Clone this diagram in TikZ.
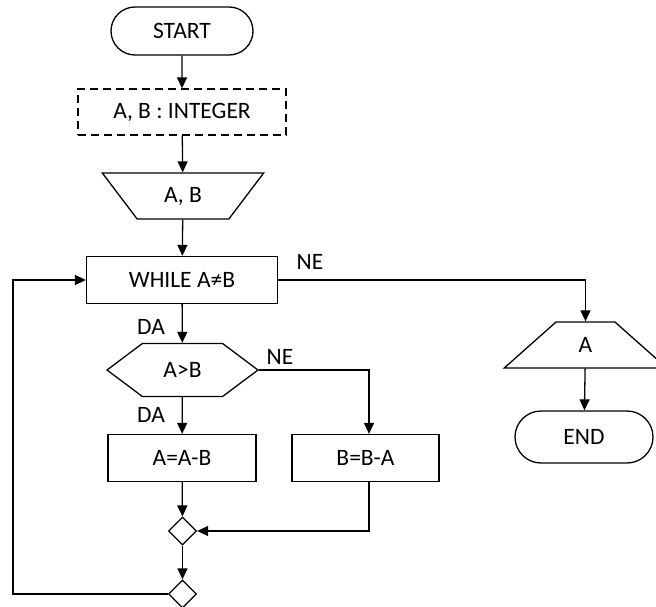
\documentclass[tikz,border=0pt]{standalone}
\usepackage{fontspec}
\setmainfont{Carlito}
\usetikzlibrary{shapes.geometric,shapes.misc,shapes.symbols,arrows.meta,calc}

\begin{document}
\begin{tikzpicture}[x=1pt,y=-1pt,
  txt/.style={font=\fontsize{23.5}{28}\selectfont},
  base/.style={txt, draw, line width=1.3pt, inner sep=0pt, align=center},
  terminal/.style={base, rounded rectangle, minimum width=142pt, minimum height=48pt},
  decl/.style={base, rectangle, dash pattern=on 8pt off 5pt, minimum width=208pt, minimum height=46pt},
  process/.style={base, rectangle, minimum width=148pt, minimum height=47pt},
  inbox/.style={base, trapezium, trapezium stretches=true, shape border rotate=180,
    trapezium left angle=51.6, trapezium right angle=51.6, minimum width=162pt, minimum height=46pt},
  outbox/.style={base, trapezium, trapezium stretches=true,
    trapezium left angle=51.6, trapezium right angle=51.6, minimum width=163pt, minimum height=46pt},
  cond/.style={base, signal, signal to=east and west, signal pointer angle=73.7,
    minimum width=151pt, minimum height=53pt},
  junction/.style={draw, line width=1.3pt, diamond, aspect=1, inner sep=0pt, minimum size=28pt},
  lbl/.style={txt, inner sep=0pt},
  arr/.style={line width=1.3pt, -{Triangle[length=11pt,width=10pt]}},
  ln/.style={line width=1.3pt}
]
\useasboundingbox (0,0) rectangle (656,607);

% main column
\node[terminal] (start) at (182,31) {START};
\node[decl]     (vars)  at (182,112) {A, B : INTEGER};
\node[inbox]    (inp)   at (183,196) {A, B};
\node[process, minimum width=191pt] (loop) at (182,280) {WHILE A≠B};
\node[cond]     (test)  at (182.5,370) {A>B};
\node[process]  (suba)  at (182,458) {A=A-B};
\node[process, minimum width=147pt] (subb) at (365.5,458) {B=B-A};
\node[junction] (j1)    at (182.5,531) {};
\node[junction] (j2)    at (182.5,594) {};

% output branch
\node[outbox]   (outa)  at (585.5,345) {A};
\node[terminal, minimum width=138pt, minimum height=52pt] (stop) at (584,437) {END};

% branch labels
\node[lbl] (ne1) at (310,262) {NE};
\node[lbl] (da1) at (151,327) {DA};
\node[lbl] (ne2) at (280,357) {NE};
\node[lbl] (da2) at (151,415) {DA};

% connectors
\draw[arr] (start) -- (vars);
\draw[arr] (vars) -- (inp);
\draw[arr] (inp) -- (loop);
\draw[arr] (loop) -- (test);
\draw[arr] (test) -- (suba);
\draw[arr] (test.east) -| ($(subb.north)+(3.5,0)$);
\draw[arr] (suba) -- (j1);
\draw[arr] ($(subb.south)+(3.5,0)$) |- (j1.east);
\draw[arr] (j1) -- (j2);
\draw[arr] (j2.west) -- ++(-155,0) |- (loop.west);
\draw[arr] (loop.east) -| (outa.north);
\draw[arr] (outa) -- (stop);
\end{tikzpicture}
\end{document}
